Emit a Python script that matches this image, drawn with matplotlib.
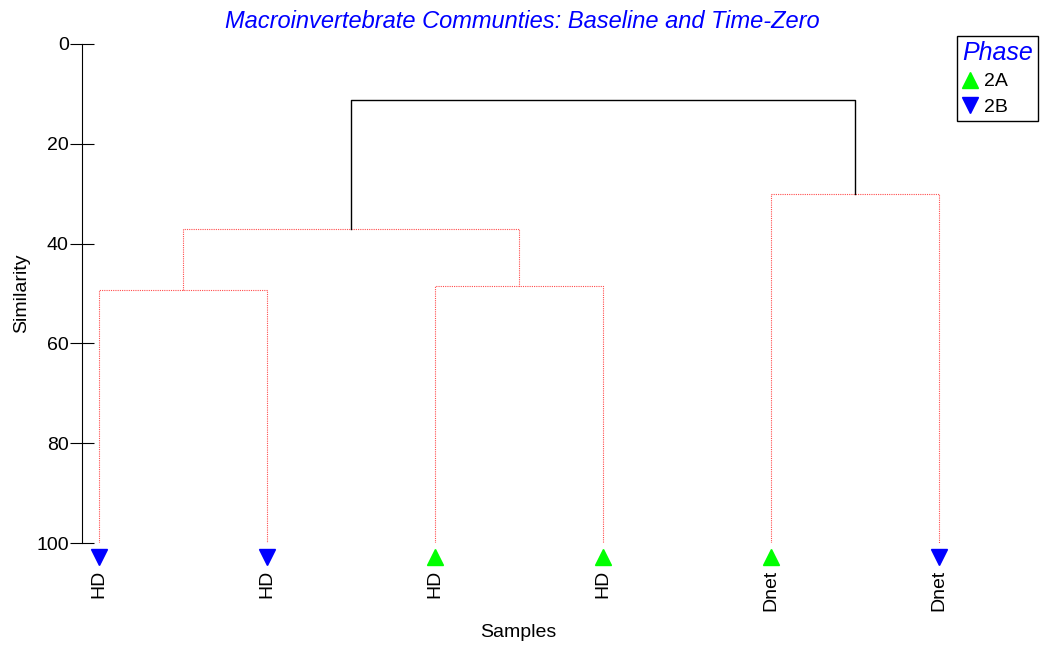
import numpy as np
import matplotlib
matplotlib.use('Agg')
from matplotlib import pyplot as plt
from matplotlib.lines import Line2D

plt.rcParams['font.family'] = ['Liberation Sans', 'DejaVu Sans']

# samples (leaf order) and their phase
samples = ['HD', 'HD', 'HD', 'HD', 'Dnet', 'Dnet']
phases = ['2B', '2B', '2A', '2A', '2A', '2B']

# merges: (cluster a, cluster b, similarity); new clusters numbered from 6
merges = [(0, 1, 49.3), (2, 3, 48.5), (4, 5, 30.1), (6, 7, 37.1), (9, 8, 11.2)]

phase_style = {'2A': ('^', '#00ff00'), '2B': ('v', '#0000ff')}

fig = plt.figure(figsize=(10.4, 6.46), dpi=100)
ax = fig.add_axes([0.0788, 0.1594, 0.84, 0.7725])

red = dict(color='#ff0000', lw=0.8, ls=(0, (1, 1)), alpha=0.7)
black = dict(color='black', lw=1.0, ls='-')

pos = {i: (i + 1.0, 100.0) for i in range(len(samples))}
for k, (a, b, h) in enumerate(merges):
    xa, ha = pos[a]
    xb, hb = pos[b]
    st = black if k == len(merges) - 1 else red
    ax.plot([xa, xa, xb, xb], [ha, h, h, hb], **st)
    pos[len(samples) + k] = ((xa + xb) / 2, h)

for i, (s, p) in enumerate(zip(samples, phases)):
    m, c = phase_style[p]
    ax.plot(i + 1, 102.8, marker=m, color=c, markersize=11, clip_on=False, ls='none')
    ax.text(i + 1, 105.3, s, rotation=90, ha='center', va='top', fontsize=14)

ax.set_xlim(0.9, 6.1)
ax.set_ylim(100, 0)
ax.set_yticks([0, 20, 40, 60, 80, 100])
ax.tick_params(axis='y', direction='inout', length=17, labelsize=14, pad=1)
ax.set_xticks([])
for sp in ['top', 'right', 'bottom']:
    ax.spines[sp].set_visible(False)
ax.set_ylabel('Similarity', fontsize=14, labelpad=4)

fig.text(0.502, 0.967, 'Macroinvertebrate Communties: Baseline and Time-Zero',
         ha='center', va='center', fontsize=17, style='italic', color='blue')
fig.text(0.498, 0.008, 'Samples', ha='center', va='bottom', fontsize=14)

handles = [Line2D([], [], marker=phase_style[p][0], color=phase_style[p][1], ls='none',
                  markersize=11) for p in ['2A', '2B']]
leg = fig.legend(handles, ['2A', '2B'], loc='upper right', bbox_to_anchor=(0.998, 0.944),
                 title='Phase', fancybox=False, edgecolor='black', fontsize=14,
                 handlelength=0.8, handletextpad=0.3, borderpad=0.25, labelspacing=0.4,
                 borderaxespad=0, framealpha=1)
leg.get_title().set_color('blue')
leg.get_title().set_style('italic')
leg.get_title().set_fontsize(18)
leg._legend_box.align = 'left'
leg.get_frame().set_linewidth(1.0)

fig.savefig('out.png', dpi=100)
